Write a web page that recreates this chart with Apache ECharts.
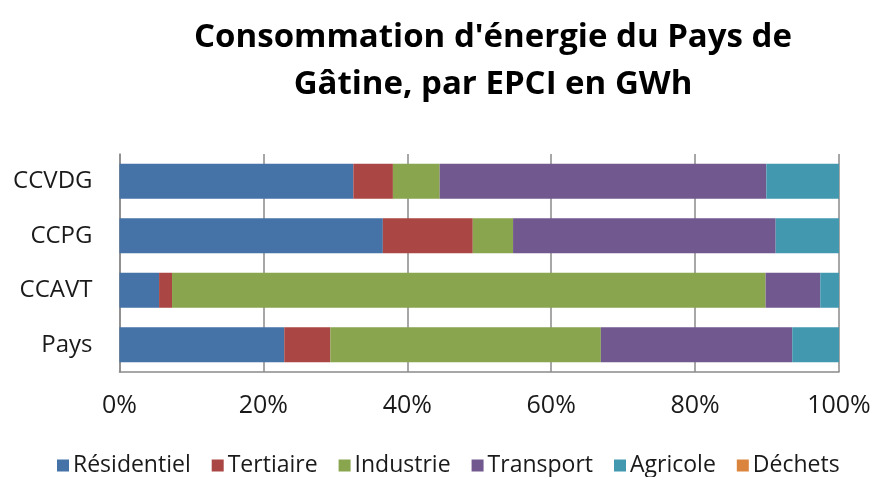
<!DOCTYPE html>
<html>
<head>
<meta charset="utf-8">
<script src="https://cdn.jsdelivr.net/npm/echarts@6/dist/echarts.min.js"></script>
<style>
  html, body { margin: 0; padding: 0; background: #fff; }
  #chart { width: 870px; height: 477px; }
</style>
</head>
<body>
<div id="chart"></div>
<script>
// EPCI (top to bottom)
const categories = ['CCVDG', 'CCPG', 'CCAVT', 'Pays'];

// share of consumption by sector, %
const residentiel = [32.5, 36.6, 5.5, 22.9];
const tertiaire = [5.5, 12.5, 1.8, 6.4];
const industrie = [6.5, 5.6, 82.5, 37.6];
const transport = [45.4, 36.5, 7.6, 26.6];
const agricole = [10.1, 8.8, 2.6, 6.5];
const dechets = [0, 0, 0, 0];

const xTicks = [0, 20, 40, 60, 80, 100];

const colors = ['#4572A7', '#AA4643', '#89A54E', '#71588F', '#4198AF', '#DB843D'];
const font = '"Open Sans", "Noto Sans", sans-serif';

const chart = echarts.init(document.getElementById('chart'));

const mk = (name, data) => ({
  name: name,
  type: 'bar',
  stack: 'total',
  barWidth: 35,
  data: data
});

chart.setOption({
  animation: false,
  color: colors,
  title: {
    text: "Consommation d'énergie du Pays de\nGâtine, par EPCI en GWh",
    left: 488,
    textAlign: 'center',
    top: 9,
    textStyle: {
      fontFamily: font,
      fontWeight: 'bold',
      fontSize: 33,
      lineHeight: 47,
      color: '#000'
    }
  },
  legend: {
    bottom: -5,
    left: 52,
    icon: 'rect',
    itemWidth: 12,
    itemHeight: 12,
    itemGap: 21,
    textStyle: { fontFamily: font, fontSize: 23, color: '#1a1a1a', padding: [0, 0, 0, -1] }
  },
  grid: { left: 119.5, right: 31, top: 154, bottom: 105, outerBoundsMode: 'none', containLabel: false },
  xAxis: {
    type: 'value',
    min: xTicks[0],
    max: xTicks[xTicks.length - 1],
    interval: 20,
    axisLabel: {
      formatter: '{value}%',
      margin: 21,
      fontFamily: font,
      fontSize: 25,
      color: '#1a1a1a'
    },
    axisLine: { show: true, lineStyle: { color: '#8a8a8a', width: 1.5 } },
    axisTick: { show: false },
    splitLine: { lineStyle: { color: '#8a8a8a', width: 1.5 } }
  },
  yAxis: {
    type: 'category',
    inverse: true,
    data: categories,
    axisLabel: {
      margin: 27,
      fontFamily: font,
      fontSize: 24,
      color: '#1a1a1a'
    },
    axisLine: { show: true, lineStyle: { color: '#8a8a8a', width: 1.5 } },
    axisTick: { show: false }
  },
  series: [
    mk('Résidentiel', residentiel),
    mk('Tertiaire', tertiaire),
    mk('Industrie', industrie),
    mk('Transport', transport),
    mk('Agricole', agricole),
    mk('Déchets', dechets)
  ]
});
</script>
</body>
</html>
